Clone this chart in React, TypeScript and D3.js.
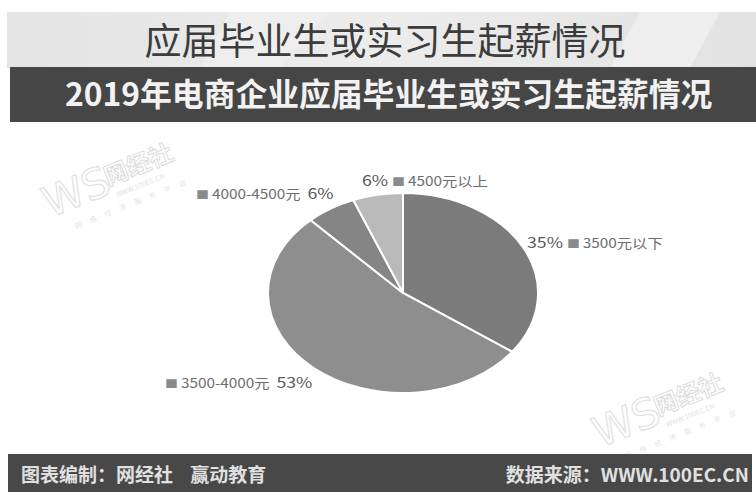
import React, { useEffect, useRef } from 'react';
import * as d3 from 'd3';

const categories = ['3500元以下', '3500-4000元', '4000-4500元', '4500元以上'];
const shares = [35, 53, 6, 6];
const sliceColors = ['#7b7b7b', '#8e8e8e', '#858585', '#b9b9b9'];

const mainTitle = '应届毕业生或实习生起薪情况';
const subTitle = '2019年电商企业应届毕业生或实习生起薪情况';
const footerLeft = '图表编制：网经社    赢动教育';
const footerRight = '数据来源：WWW.100EC.CN';

const W = 756;
const H = 492;
const FONT = '"Noto Sans CJK SC", "Noto Sans", sans-serif';

const App: React.FC = () => {
  const svgRef = useRef<SVGSVGElement>(null);

  useEffect(() => {
    document.body.style.margin = '0';
    const svg = d3.select(svgRef.current);
    svg.selectAll('*').remove();
    svg.attr('width', W).attr('height', H);

    svg.append('rect').attr('width', W).attr('height', H).attr('fill', '#ffffff');

    // top band with light grey gradient
    const defs = svg.append('defs');
    const grad = defs.append('linearGradient').attr('id', 'band').attr('x1', 0).attr('x2', 1);
    grad.append('stop').attr('offset', '0%').attr('stop-color', '#e4e4e4');
    grad.append('stop').attr('offset', '50%').attr('stop-color', '#ececec');
    grad.append('stop').attr('offset', '100%').attr('stop-color', '#e2e2e2');
    svg.append('rect').attr('x', 7).attr('y', 12).attr('width', W - 7).attr('height', 56)
      .attr('fill', 'url(#band)');
    svg.append('path').attr('d', 'M230,12 L330,12 L280,68 L200,68 Z').attr('fill', '#f0f0f0').attr('opacity', 0.7);
    svg.append('path').attr('d', 'M640,12 L720,12 L690,68 L610,68 Z').attr('fill', '#f2f2f2').attr('opacity', 0.7);

    svg.append('text')
      .attr('x', 385).attr('y', 55)
      .attr('text-anchor', 'middle')
      .style('font-family', FONT).style('font-size', '37px')
      .attr('fill', '#3c3c3c')
      .text(mainTitle);

    // dark subtitle bar
    svg.append('rect').attr('x', 10).attr('y', 67).attr('width', W - 10).attr('height', 55)
      .attr('fill', '#464646');
    svg.append('text')
      .attr('x', 65).attr('y', 106)
      .style('font-family', FONT).style('font-size', '31.8px').style('font-weight', 'bold')
      .attr('fill', '#f2f2f2')
      .text(subTitle);

    // watermarks
    const mark = (x: number, y: number) => {
      const g = svg.append('g').attr('transform', `translate(${x},${y}) rotate(-22)`)
        .attr('fill', 'none').attr('opacity', 0.4);
      g.append('text').attr('x', 0).attr('y', 0)
        .style('font-family', '"DejaVu Sans", sans-serif').style('font-size', '42px')
        .attr('stroke', '#b5b5b5').attr('stroke-width', 1.2)
        .text('WS');
      g.append('text').attr('x', 66).attr('y', -8)
        .style('font-family', FONT).style('font-size', '24px').style('font-weight', 'bold')
        .attr('stroke', '#a8a8a8').attr('stroke-width', 1)
        .text('网经社');
      g.append('text').attr('x', 70).attr('y', 6)
        .style('font-family', FONT).style('font-size', '7px')
        .attr('fill', '#b0b0b0')
        .text('WWW.100EC.CN');
      g.append('text').attr('x', 20).attr('y', 20)
        .style('font-family', FONT).style('font-size', '7px').style('letter-spacing', '9px')
        .attr('fill', '#b8b8b8')
        .text('网络经济服务平台');
    };
    mark(50, 218);
    mark(600, 448);

    // pie (circle drawn then stretched horizontally, as in the original image)
    const cx = 403;
    const cy = 293;
    const r = 100;
    const sx = 1.35;

    const pie = d3.pie<number>().sort(null).value(d => d);
    const arcs = pie(shares);
    const arc = d3.arc<d3.PieArcDatum<number>>().innerRadius(0).outerRadius(r);

    const pg = svg.append('g').attr('transform', `translate(${cx},${cy}) scale(${sx},1)`);
    pg.selectAll('path')
      .data(arcs)
      .enter().append('path')
      .attr('d', arc)
      .attr('fill', (_, i) => sliceColors[i])
      .attr('stroke', '#ffffff')
      .attr('stroke-width', 2)
      .attr('vector-effect', 'non-scaling-stroke');

    // labels
    const labelPos = [
      { x: 527, y: 248, pctFirst: true },
      { x: 165, y: 388, pctFirst: false },
      { x: 196, y: 199, pctFirst: false },
      { x: 362, y: 186, pctFirst: true },
    ];

    arcs.forEach((a, i) => {
      const p = labelPos[i];
      const t = svg.append('text')
        .attr('transform', `translate(${p.x},${p.y}) scale(1.18,1)`)
        .style('font-family', FONT)
        .attr('xml:space', 'preserve')
        .style('white-space', 'pre');
      const pct = `${a.data}%`;
      const addPct = (s: string) => t.append('tspan').style('font-size', '15px').attr('fill', '#585858').text(s);
      const addBox = () => t.append('tspan').style('font-size', '11px').attr('fill', '#8a8a8a').text('■ ');
      const addCat = (s: string) => t.append('tspan').style('font-size', '13px').attr('fill', '#6e6e6e').text(s);
      if (p.pctFirst) {
        addPct(pct + ' ');
        addBox();
        addCat(categories[i]);
      } else {
        addBox();
        addCat(categories[i] + '  ');
        addPct(pct);
      }
    });

    // footer bar
    svg.append('rect').attr('x', 8).attr('y', 454).attr('width', 744).attr('height', H - 454)
      .attr('fill', '#484848');
    svg.append('text')
      .attr('x', 21).attr('y', 482)
      .style('font-family', FONT).style('font-size', '19px').style('font-weight', 'bold')
      .attr('fill', '#e0e0e0')
      .attr('xml:space', 'preserve')
      .style('white-space', 'pre')
      .text(footerLeft);
    svg.append('text')
      .attr('x', 749).attr('y', 482)
      .attr('text-anchor', 'end')
      .style('font-family', FONT).style('font-size', '19px').style('font-weight', 'bold')
      .attr('fill', '#e0e0e0')
      .text(footerRight);
  }, []);

  return <svg ref={svgRef} style={{ display: 'block' }}></svg>;
};

export default App;
